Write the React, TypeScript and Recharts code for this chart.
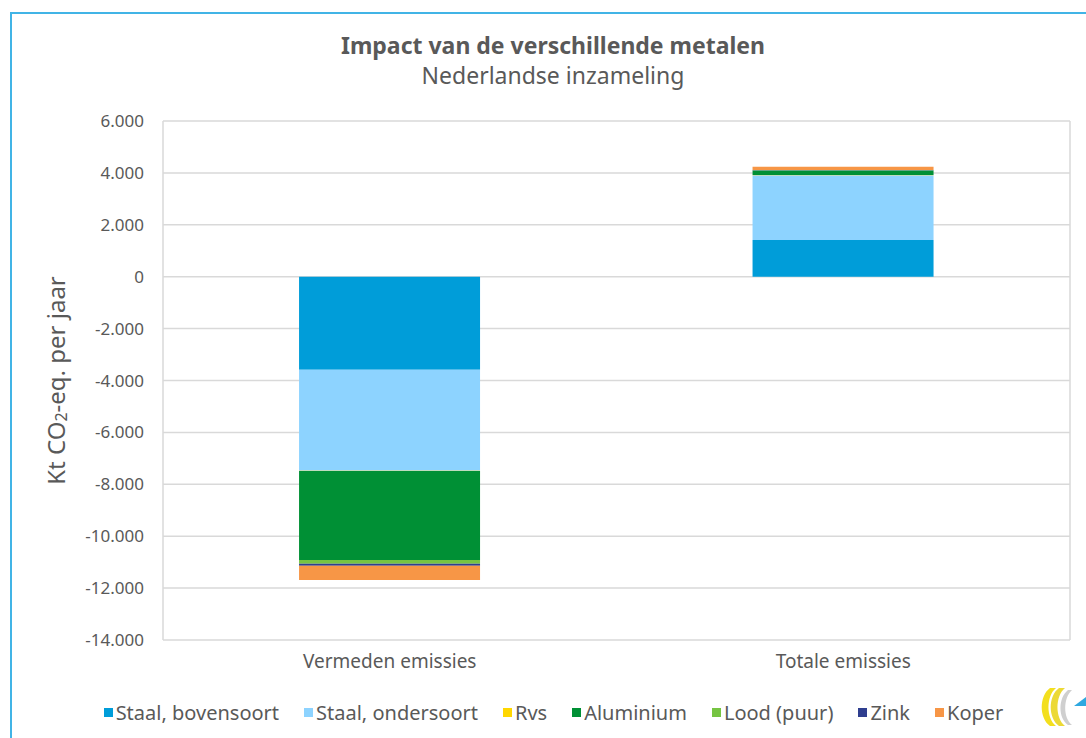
import React from "react"
import { BarChart, Bar, XAxis, YAxis, CartesianGrid, Legend } from "recharts"

const categories = ["Vermeden emissies", "Totale emissies"]
const staalBoven = [-3590, 1410]
const staalOnder = [-3885, 2500]
const rvs = [-10, 5]
const aluminium = [-3435, 180]
const lood = [-140, 10]
const zink = [-75, 5]
const koper = [-550, 125]
const yTicks = [-14000, -12000, -10000, -8000, -6000, -4000, -2000, 0, 2000, 4000, 6000]

const series = [
  { key: "Staal, bovensoort", values: staalBoven, color: "#009dd9" },
  { key: "Staal, ondersoort", values: staalOnder, color: "#8dd3ff" },
  { key: "Rvs", values: rvs, color: "#ffd700" },
  { key: "Aluminium", values: aluminium, color: "#009035" },
  { key: "Lood (puur)", values: lood, color: "#76c442" },
  { key: "Zink", values: zink, color: "#2f3e8f" },
  { key: "Koper", values: koper, color: "#f79646" },
]

const data = categories.map((name, i) => {
  const row: Record<string, string | number> = { name }
  series.forEach((s) => (row[s.key] = s.values[i]))
  return row
})

const FONT = "'Noto Sans', sans-serif"
const GREY = "#595959"
const GRID = "#d9d9d9"

const fmt = (v: number) => {
  const s = Math.abs(v).toString().replace(/\B(?=(\d{3})+(?!\d))/g, ".")
  return v < 0 ? "-" + s : s
}

function YLabel(props: any) {
  const vb = props.viewBox || { y: 121, height: 519 }
  const cx = 55
  const cy = vb.y + vb.height / 2
  return (
    <text
      x={cx}
      y={cy}
      transform={`rotate(-90 ${cx} ${cy})`}
      textAnchor="middle"
      dominantBaseline="central"
      fill={GREY}
      fontSize={24}
      fontFamily={FONT}
    >
      Kt CO<tspan dy={6} fontSize={16}>2</tspan>
      <tspan dy={-6}>-eq. per jaar</tspan>
    </text>
  )
}

function LegendBox() {
  return (
    <div
      style={{
        display: "flex",
        justifyContent: "center",
        height: 24,
        alignItems: "center",
        fontFamily: FONT,
        fontSize: 20,
        color: GREY,
        paddingLeft: 21,
      }}
    >
      {series.map((s, i) => (
        <div
          key={s.key}
          style={{ display: "flex", alignItems: "center", marginRight: i < series.length - 1 ? 25 : 0 }}
        >
          <span style={{ width: 9, height: 9, background: s.color, marginRight: 3, display: "inline-block" }} />
          <span>{s.key}</span>
        </div>
      ))}
    </div>
  )
}

function Logo() {
  return (
    <svg width={48} height={42} style={{ position: "absolute", left: 1038, top: 686 }}>
      <path d="M12 2 C1 10 1 32 12 40 L18 40 C8 32 8 10 18 2 Z" fill="#f3df1e" />
      <path d="M21 2 C10 10 10 32 21 40 L27 40 C17 32 17 10 27 2 Z" fill="#ecd936" />
      <path d="M30 4 C20 12 20 32 30 39 L34 39 C25 32 25 12 34 4 Z" fill="#cfcfcf" />
      <path d="M36 20 L48 11 L48 20 Z" fill="#2ea8e0" />
    </svg>
  )
}

export default function App() {
  return (
    <div style={{ position: "absolute", left: 0, top: 0, width: 1086, height: 738, overflow: "hidden", background: "#fff" }}>
      <div
        style={{
          position: "absolute",
          left: 10,
          top: 12,
          width: 1076,
          height: 726,
          borderLeft: "2px solid #41b4e6",
          borderTop: "2px solid #41b4e6",
          boxSizing: "border-box",
        }}
      />
      <div
        style={{
          position: "absolute",
          left: 0,
          top: 30,
          width: 1106,
          textAlign: "center",
          fontFamily: FONT,
          color: GREY,
          lineHeight: "30px",
        }}
      >
        <div style={{ fontSize: 23, fontWeight: 700 }}>Impact van de verschillende metalen</div>
        <div style={{ fontSize: 23 }}>Nederlandse inzameling</div>
      </div>
      <BarChart
        width={1086}
        height={738}
        data={data}
        stackOffset="sign"
        barCategoryGap="30%"
        margin={{ top: 121, right: 16, bottom: 44, left: 0 }}
        style={{ position: "absolute", left: 0, top: 0 }}
      >
        <CartesianGrid
          stroke={GRID}
          strokeWidth={1.5}
          verticalCoordinatesGenerator={({ offset }: any) => [offset.left, offset.left + offset.width]}
        />
        <XAxis
          dataKey="name"
          height={30}
          axisLine={false}
          tickLine={false}
          tickMargin={9}
          tick={{ fontSize: 19, fill: GREY, fontFamily: FONT }}
        />
        <YAxis
          width={163}
          domain={[-14000, 6000]}
          ticks={yTicks}
          tickFormatter={fmt}
          axisLine={false}
          tickLine={false}
          tickSize={0}
          tickMargin={19}
          tick={{ fontSize: 17, fill: GREY, fontFamily: FONT }}
          label={{ content: <YLabel /> }}
        />
        <Legend
          verticalAlign="bottom"
          content={<LegendBox />}
          wrapperStyle={{ position: "absolute", top: 700, left: 0, width: 1086 }}
        />
        {series.map((s) => (
          <Bar key={s.key} dataKey={s.key} stackId="a" fill={s.color} isAnimationActive={false} />
        ))}
      </BarChart>
      <Logo />
    </div>
  )
}
